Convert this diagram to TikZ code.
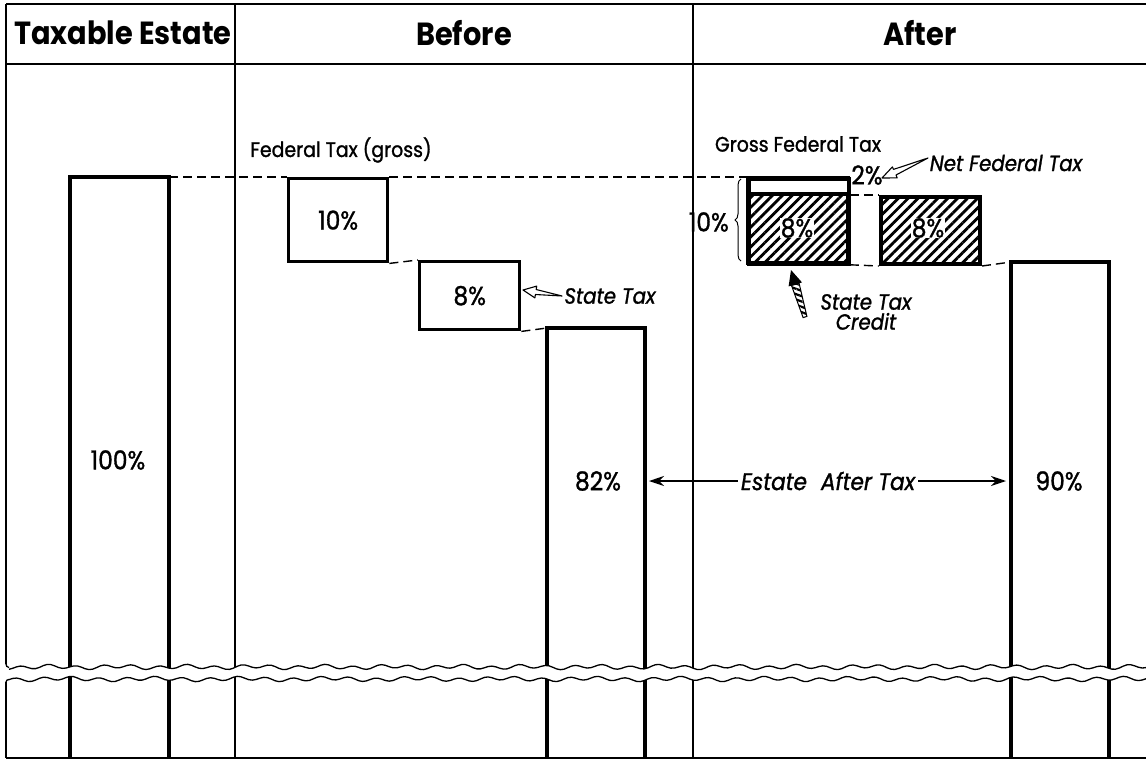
\documentclass[tikz,border=0pt]{standalone}
\usepackage{fontspec}
\setmainfont{Poppins}[FakeStretch=0.9, FakeBold=1.2, BoldFeatures={FakeBold=0}]
\usetikzlibrary{patterns.meta,decorations.pathreplacing,arrows.meta}
\tikzset{
  frameln/.style={line width=1.3pt},
  barln/.style={line width=3.6pt, line join=miter},
  boxln/.style={draw, line width=3.4pt, inner sep=0pt},
  hatchbox/.style={draw, line width=4pt, inner sep=0pt, pattern={Lines[angle=45,distance=7pt,line width=2.8pt]}},
  dashln/.style={line width=1.4pt, dash pattern=on 9pt off 5pt},
  empty/.style={inner sep=0pt, outer sep=0pt},
  lbl/.style={font=\fontsize{21}{21}\selectfont, inner sep=2pt},
  pct/.style={font=\fontsize{26}{26}\selectfont, inner sep=2pt},
  itl/.style={font=\fontsize{22}{22}\selectfont\itshape, inner sep=3pt},
  hdr/.style={font=\fontsize{32}{32}\selectfont\bfseries},
  whitelbl/.style={font=\fontsize{26}{26}\selectfont, fill=white, inner sep=0.5pt}
}
\begin{document}
\begin{tikzpicture}[x=1pt,y=-1pt]
\useasboundingbox (0,0) rectangle (1146,760);
% frame
\draw[frameln] (6,4) -- (1146,4);
\draw[frameln] (6,64) -- (1146,64);
\draw[frameln] (6,758) -- (1146,758);
\draw[frameln] (6,4) -- (6,664);
\draw[frameln] (6,682) -- (6,758);
\draw[frameln] (235,4) -- (235,758);
\draw[frameln] (693,4) -- (693,758);
% headers
\node[hdr] (h1) at (123,33) {Taxable Estate};
\node[hdr] (h2) at (464,33) {Before};
\node[hdr] (h3) at (920,33) {After};
% bars
\node[empty, minimum width=99pt, minimum height=581pt, anchor=north west] (b100) at (70,177) {};
\node[empty, minimum width=98pt, minimum height=430pt, anchor=north west] (b82) at (547,328) {};
\node[empty, minimum width=98pt, minimum height=496pt, anchor=north west] (b90) at (1011,262) {};
\draw[barln] (b100.south west) |- (b100.north east) -- (b100.south east);
\draw[barln] (b82.south west) |- (b82.north east) -- (b82.south east);
\draw[barln] (b90.south west) |- (b90.north east) -- (b90.south east);
\node[pct] (t100) at (118,460) {100\%};
\node[pct] (t82) at (598,481) {82\%};
\node[pct] (t90) at (1059,481) {90\%};
% before boxes
\node[boxln, minimum width=99pt, minimum height=83pt, anchor=north west, font=\fontsize{26}{26}\selectfont] (fed) at (287,177) {10\%};
\node[boxln, minimum width=100pt, minimum height=68pt, anchor=north west, font=\fontsize{26}{26}\selectfont] (st) at (418,260) {8\%};
\node[lbl] (fedl) at (341,150) {Federal Tax (gross)};
% after boxes
\node[hatchbox, minimum width=100pt, minimum height=85pt, anchor=north west] (gross) at (747,177) {};
\fill[white] (gross.north west) rectangle ([yshift=-17pt]gross.north east);
\node[boxln, minimum width=100pt, minimum height=85pt, anchor=north west, line width=4pt] (grossb) at (747,177) {};
\draw[line width=3.4pt] ([yshift=-17pt]gross.north west) -- ([yshift=-17pt]gross.north east);
\node[whitelbl] (g8) at (797,228) {8\%};
\node[hatchbox, minimum width=99pt, minimum height=67pt, anchor=north west] (cr) at (879,195) {};
\node[whitelbl] (c8) at (928,228) {8\%};
\node[lbl] (gfl) at (798,144) {Gross Federal Tax};
\node[pct] (p2) at (867,175) {2\%};
\node[itl] (nft) at (1006,163) {Net Federal Tax};
\node[pct, anchor=east] (p10) at (731,222) {10\%};
\draw[decorate, decoration={brace, amplitude=6pt}, line width=1pt] (741,261) -- (741,179);
% dashed guide lines
\draw[dashln] (b100.north east) -- (fed.north west);
\draw[dashln] (fed.north east) -- (gross.north west);
\draw[dashln] (fed.south east) -- (st.north west);
\draw[dashln] (st.south east) -- (b82.north west);
\draw[dashln] (gross.east |- cr.north west) -- (cr.north west);
\draw[dashln] (gross.south east) -- (cr.south west);
\draw[dashln] (cr.south east) -- (b90.north west);
% state tax label and hollow arrow
\node[itl] (stl) at (610,296) {State Tax};
\draw[line width=1.1pt, line join=round, fill=white] (523,290) -- (536.7,286.1) -- (536.2,289.5) -- (562,296) -- (535.4,294.5) -- (534.9,297.9) -- cycle;
% net federal tax hollow arrow
\draw[line width=1.1pt, line join=round, fill=white] (882,178) -- (892.4,166.9) -- (893.5,169.4) -- (928,158) -- (896.0,175.0) -- (897.2,177.9) -- cycle;
% state tax credit arrow
\node[itl, align=center] (stc) at (866,312) {State Tax\\[-2pt]Credit};
\fill[black] (791,270) -- (802.0,282.4) -- (788.6,286.4) -- cycle;
\draw[line width=1pt, pattern={Lines[angle=-20,distance=5pt,line width=2.2pt]}] (791.5,285.5) -- (799.1,283.3) -- (806.9,316.4) -- (803.1,317.6) -- cycle;
% estate after tax
\node[itl, font=\fontsize{24}{24}\selectfont\itshape] (eat) at (828,481) {Estate\hspace{14pt}After Tax};
\draw[line width=1.3pt, -{Stealth[length=15pt,width=10pt]}, shorten >=4pt] (eat.west) -- (b82.east |- eat.west);
\draw[line width=1.3pt, -{Stealth[length=15pt,width=10pt]}, shorten >=5pt] (eat.east) -- (b90.west |- eat.east);
% break
\fill[white] plot[domain=5:1146, samples=300, smooth] (\x,{667+1.8*sin(13*\x)+0.9*sin(5.3*\x)}) -- plot[domain=1146:5, samples=300, smooth] (\x,{679+1.8*sin(13*\x+60)+0.9*sin(4.1*\x)}) -- cycle;
\draw[frameln] (6,664) to[out=-90,in=180] (9,667.5);
\draw[frameln] plot[domain=9:1146, samples=300, smooth] (\x,{667+1.8*sin(13*\x)+0.9*sin(5.3*\x)});
\draw[frameln] (6,682) to[out=90,in=180] (9,679.5);
\draw[frameln] plot[domain=9:1146, samples=300, smooth] (\x,{679+1.8*sin(13*\x+60)+0.9*sin(4.1*\x)});
\end{tikzpicture}
\end{document}
